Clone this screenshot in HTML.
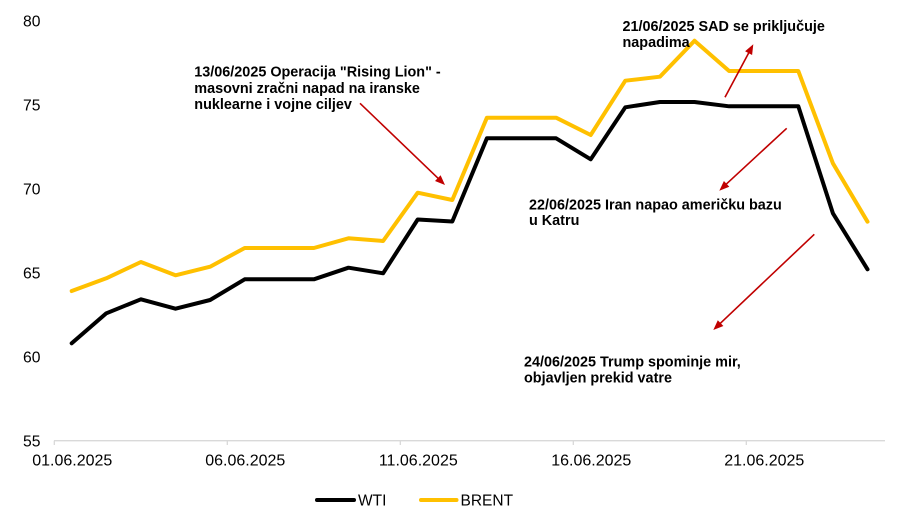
<!DOCTYPE html>
<html>
<head>
<meta charset="utf-8">
<style>
  html, body { margin: 0; padding: 0; background: #ffffff; }
  body { width: 900px; height: 513px; overflow: hidden; }
  svg { display: block; }
  .ax { font-family: "Liberation Sans", Arial, sans-serif; font-size: 15.7px; fill: #000; }
  .an { font-family: "Liberation Sans", Arial, sans-serif; font-size: 14.4px; font-weight: bold; fill: #000; }
</style>
</head>
<body>
<svg width="900" height="513" viewBox="0 0 900 513" xmlns="http://www.w3.org/2000/svg">
  <rect x="0" y="0" width="900" height="513" fill="#ffffff"/>

  <!-- Y axis labels -->
  <g class="ax" text-anchor="end">
    <text x="40.5" y="26.5">80</text>
    <text x="40.5" y="110.5">75</text>
    <text x="40.5" y="194.5">70</text>
    <text x="40.5" y="278.3">65</text>
    <text x="40.5" y="362.3">60</text>
    <text x="40.5" y="446.3">55</text>
  </g>

  <!-- X axis -->
  <line x1="54" y1="440.7" x2="885" y2="440.7" stroke="#d9d9d9" stroke-width="1.3"/>
  <g stroke="#d9d9d9" stroke-width="1.3">
    <line x1="54.3" y1="440.7" x2="54.3" y2="445"/>
    <line x1="227.3" y1="440.7" x2="227.3" y2="445"/>
    <line x1="400.3" y1="440.7" x2="400.3" y2="445"/>
    <line x1="573.3" y1="440.7" x2="573.3" y2="445"/>
    <line x1="746.3" y1="440.7" x2="746.3" y2="445"/>
  </g>
  <g class="ax" text-anchor="middle" style="font-size:16px">
    <text x="72.3" y="465.5">01.06.2025</text>
    <text x="245.3" y="465.5">06.06.2025</text>
    <text x="418.3" y="465.5">11.06.2025</text>
    <text x="591.3" y="465.5">16.06.2025</text>
    <text x="764.3" y="465.5">21.06.2025</text>
  </g>

  <!-- WTI -->
  <polyline fill="none" stroke="#000000" stroke-width="4" stroke-linejoin="round" stroke-linecap="round"
    points="71.7,343.3 106.3,313.3 140.9,299.3 175.5,308.7 210.1,300 244.7,279.3 279.3,279.3 313.9,279.3 348.5,267.7 383.1,273.3 417.7,219.5 452.3,221.5 486.9,138.3 521.5,138.3 556.1,138.3 590.7,159.3 625.3,107.3 659.9,102 694.5,102 729.1,106.3 763.7,106.3 798.3,106.3 832.9,213.3 867.5,269.3"/>

  <!-- BRENT -->
  <polyline fill="none" stroke="#FFC000" stroke-width="4" stroke-linejoin="round" stroke-linecap="round"
    points="71.7,291 106.3,278.3 140.9,262 175.5,275.3 210.1,266.7 244.7,248 279.3,248 313.9,248 348.5,238.3 383.1,241 417.7,192.7 452.3,200 486.9,117.7 521.5,117.7 556.1,117.7 590.7,135 625.3,80.7 659.9,76.7 694.5,40.7 729.1,71 763.7,71 798.3,71 832.9,163.3 867.5,221.7"/>

  <!-- Arrows -->
  <g stroke="#C00000" stroke-width="1.6" fill="none">
    <line x1="360" y1="103.3" x2="438.5" y2="178.7"/>
    <line x1="725" y1="97.3" x2="748.8" y2="52.8"/>
    <line x1="786.7" y1="128.3" x2="726.2" y2="184.2"/>
    <line x1="814.3" y1="234.3" x2="720.2" y2="323.4"/>
  </g>
  <g fill="#C00000">
    <polygon points="445,185 435.0,180.95 440.6,175.2"/>
    <polygon points="753.3,44.3 752.1,55.0 745.1,51.2"/>
    <polygon points="719.3,190.7 723.9,181.0 729.3,186.8"/>
    <polygon points="713.3,330 717.8,320.2 723.4,326.0"/>
  </g>

  <!-- Annotations -->
  <g class="an">
    <text x="194.3" y="76.5">13/06/2025 Operacija "Rising Lion" -</text>
    <text x="194.3" y="92.8">masovni zračni napad na iranske</text>
    <text x="194.3" y="109.1">nuklearne i vojne ciljev</text>

    <text x="622.5" y="31">21/06/2025 SAD se priključuje</text>
    <text x="622.5" y="46.8">napadima</text>

    <text x="529" y="209.4">22/06/2025 Iran napao američku bazu</text>
    <text x="529" y="225.2">u Katru</text>

    <text x="524" y="366.7">24/06/2025 Trump spominje mir,</text>
    <text x="524" y="382.4">objavljen prekid vatre</text>
  </g>

  <!-- Legend -->
  <line x1="317" y1="500" x2="354" y2="500" stroke="#000000" stroke-width="4" stroke-linecap="round"/>
  <text class="ax" x="358" y="505.3" style="font-size:15.5px">WTI</text>
  <line x1="421" y1="500" x2="456.5" y2="500" stroke="#FFC000" stroke-width="4" stroke-linecap="round"/>
  <text class="ax" x="460.5" y="505.3" style="font-size:15.5px">BRENT</text>
</svg>
</body>
</html>
